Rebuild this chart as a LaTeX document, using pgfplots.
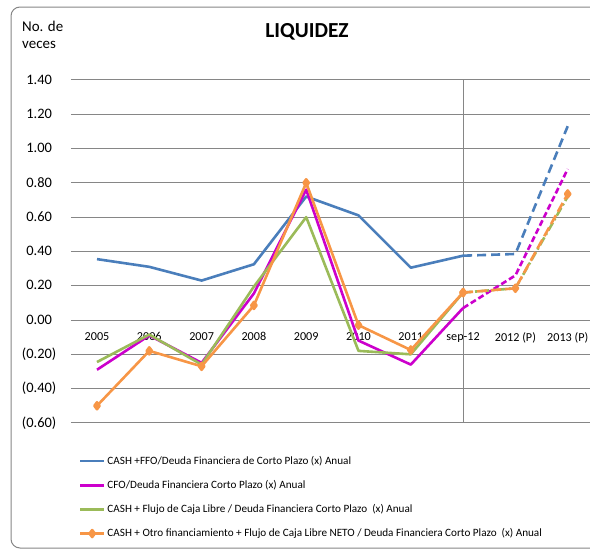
\documentclass[border=0pt]{standalone}
\usepackage{fontspec}
\setmainfont{Carlito}
\usepackage{pgfplots}
\pgfplotsset{compat=1.18}
\definecolor{cblue}{RGB}{74,126,187}
\definecolor{cmag}{RGB}{204,0,204}
\definecolor{cgreen}{RGB}{155,187,89}
\definecolor{corange}{RGB}{247,150,70}
\definecolor{cgrid}{RGB}{134,134,134}
\begin{document}
\begin{tikzpicture}
\useasboundingbox (0,0) rectangle (590bp,-550bp);
\clip (0,0) rectangle (590bp,-550bp);
\draw[cgrid, line width=1bp, rounded corners=9bp] (11bp,-7bp) rectangle (700bp,-548bp);
\node[font=\fontsize{15}{17}\selectfont, anchor=north west, align=left, inner sep=0pt] at (22bp,-21bp) {No. de\\veces};
\node[font=\fontsize{21.5}{24}\selectfont\bfseries] at (307bp,-32bp) {LIQUIDEZ};
\begin{axis}[
  x=52.3bp, y=171.5bp,
  anchor=origin, at={(97bp,-320bp)},
  xmin=-0.5, xmax=9.5, ymin=-0.6, ymax=1.4,
  axis line style={draw=none},
  major tick length=0pt,
  ytick={-0.6,-0.4,-0.2,0,0.2,0.4,0.6,0.8,1.0,1.2,1.4},
  yticklabels={(0.60),(0.40),(0.20),0.00\phantom{)},0.20\phantom{)},0.40\phantom{)},0.60\phantom{)},0.80\phantom{)},1.00\phantom{)},1.20\phantom{)},1.40\phantom{)}},
  ymajorgrids, grid style={cgrid, line width=0.9bp},
  xtick={0,...,9},
  xticklabels={2005,2006,2007,2008,2009,2010,2011,sep-12,2012 (P),2013 (P)},
  xticklabel style={font=\fontsize{12.2}{14}\selectfont, yshift=94bp},
  yticklabel style={font=\fontsize{14.5}{17}\selectfont, xshift=-11bp},
  legend style={at={(axis description cs:0.015,-0.091)}, anchor=north west, draw=none, fill=none,
    font=\fontsize{11.2}{13}\selectfont, row sep=10.5bp, inner sep=0pt},
  legend cell align=left,
  legend image code/.code={\draw[mark repeat=2,mark phase=2,#1] plot coordinates {(0bp,0bp) (12bp,0bp) (24bp,0bp)};},
  every axis plot/.append style={line width=2.6bp, line join=round},
]
\addplot[cgrid, line width=1.2bp, forget plot] coordinates {(7,-0.6) (7,1.4)};
\addplot[cblue, no marks] coordinates {(0,0.355) (1,0.31) (2,0.23) (3,0.325) (4,0.72) (5,0.61) (6,0.305) (7,0.375)};
\addlegendentry{CASH +FFO/Deuda Financiera de Corto Plazo (x) Anual}
\addplot[cmag, no marks] coordinates {(0,-0.29) (1,-0.09) (2,-0.25) (3,0.155) (4,0.76) (5,-0.12) (6,-0.26) (7,0.07)};
\addlegendentry{CFO/Deuda Financiera Corto Plazo (x) Anual}
\addplot[cgreen, no marks] coordinates {(0,-0.245) (1,-0.085) (2,-0.26) (3,0.195) (4,0.60) (5,-0.18) (6,-0.20) (7,0.16)};
\addlegendentry{CASH + Flujo de Caja Libre / Deuda Financiera Corto Plazo\ \ (x) Anual}
\addplot[corange, mark=diamond*, mark size=3.5bp, mark options={solid}] coordinates {(0,-0.50) (1,-0.18) (2,-0.27) (3,0.085) (4,0.80) (5,-0.03) (6,-0.175) (7,0.16)};
\addlegendentry{CASH + Otro financiamiento + Flujo de Caja Libre NETO / Deuda Financiera Corto Plazo\ \ (x) Anual}
\addplot[cblue, no marks, dash pattern=on 9bp off 5bp, forget plot] coordinates {(7,0.375) (8,0.385) (9,1.13)};
\addplot[cmag, no marks, dash pattern=on 6bp off 3bp, forget plot] coordinates {(7,0.07) (8,0.26) (9,0.88)};
\addplot[cgreen, no marks, dash pattern=on 9bp off 3bp on 2bp off 3bp, forget plot] coordinates {(7,0.16) (8,0.185) (9,0.72)};
\addplot[corange, mark=diamond*, mark size=3.5bp, mark options={solid}, dash pattern=on 10bp off 4bp, forget plot] coordinates {(7,0.16) (8,0.185) (9,0.735)};
\end{axis}
\end{tikzpicture}
\end{document}
